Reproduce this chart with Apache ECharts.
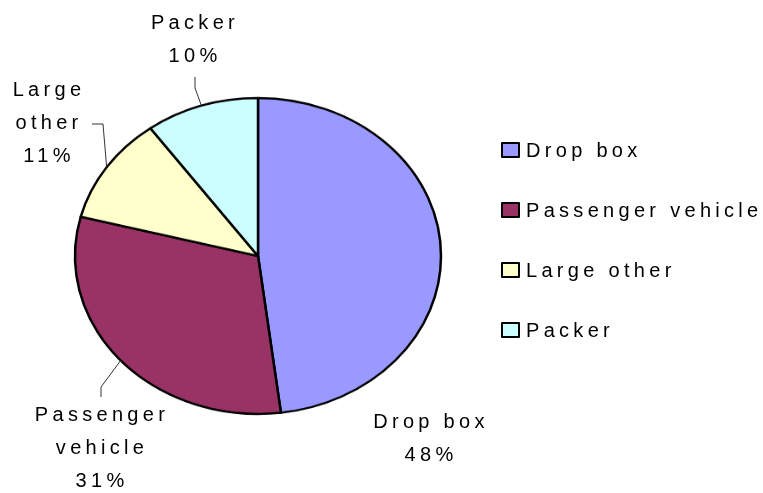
<!DOCTYPE html>
<html><head><meta charset="utf-8">
<script src="https://cdn.jsdelivr.net/npm/echarts@6/dist/echarts.min.js"></script>
<style>
html,body{margin:0;padding:0;background:#fff;}
#wrap{position:relative;width:763px;height:493px;background:#fff;}
#pie{position:absolute;left:0;top:0;width:763px;height:493px;transform:scaleY(0.8634);transform-origin:258px 256px;}
#over{position:absolute;left:0;top:0;width:763px;height:493px;letter-spacing:4.3px;}
</style></head><body>
<div id="wrap"><div id="pie"></div><div id="over"></div></div>
<script>
const categories = ['Drop box', 'Passenger vehicle', 'Large other', 'Packer'];
const values = [48, 31, 11, 10];
const labelNames = ['Drop box', 'Passenger\nvehicle', 'Large\nother', 'Packer'];
const colors = ['#9999FF', '#993366', '#FFFFCC', '#CCFFFF'];

const CX = 258, CY = 256, R = 183, SY = 0.8634;
const labelPos = [[431, 437], [102, 447], [49, 122], [195, 38]];
const leaderPts = [null, [[101, 387], [101, 397]], [[103, 124], [92, 124]], [[195, 88], [195, 77]]];
const font = "'Liberation Sans', Arial, sans-serif";

const a = echarts.init(document.getElementById('pie'), null, {renderer: 'canvas'});
a.setOption({
  animation: false,
  series: [{
    type: 'pie', center: [CX, CY], radius: R, startAngle: 90, clockwise: true, silent: true,
    data: categories.map((c, i) => ({name: c, value: values[i], itemStyle: {color: colors[i]}})),
    label: {show: false}, labelLine: {show: false},
    itemStyle: {borderColor: '#000', borderWidth: 2.5}
  }]
});

const b = echarts.init(document.getElementById('over'), null, {renderer: 'svg'});
b.setOption({
  animation: false,
  textStyle: {fontFamily: font},
  legend: {
    orient: 'vertical', left: 496, top: 135, icon: 'rect',
    itemWidth: 17, itemHeight: 14, itemGap: 40,
    itemStyle: {borderColor: '#000', borderWidth: 2, opacity: 1},
    data: categories.map((c, i) => ({name: c, itemStyle: {color: colors[i], opacity: 1, borderColor: '#000', borderWidth: 2}})),
    textStyle: {fontSize: 20, color: '#000', fontFamily: font, lineHeight: 20, padding: [0, 0, 0, 2]}
  },
  series: [{
    type: 'pie', center: [CX, CY], radius: R, startAngle: 90, clockwise: true, silent: true,
    data: categories.map((c, i) => ({
      name: c, value: values[i],
      itemStyle: {color: 'rgba(0,0,0,0)', borderWidth: 0},
      labelLine: {show: !!leaderPts[i]}
    })),
    label: {
      show: true, position: 'outside', overflow: 'none', width: 300,
      formatter: p => labelNames[p.dataIndex] + '\n' + Math.round(p.percent) + '%',
      fontSize: 20, lineHeight: 33, color: '#000', fontFamily: font, align: 'center'
    },
    labelLine: {show: true, length: 10, length2: 10, lineStyle: {color: '#333', width: 1, opacity: 1}},
    labelLayout: function (p) {
      const i = p.dataIndex;
      const res = {x: labelPos[i][0], y: labelPos[i][1], align: 'center', verticalAlign: 'middle'};
      if (leaderPts[i] && p.labelLinePoints) {
        const e = p.labelLinePoints[0];
        res.labelLinePoints = [[e[0], CY + (e[1] - CY) * SY]].concat(leaderPts[i]);
      }
      return res;
    }
  }]
});
</script>
</body></html>
